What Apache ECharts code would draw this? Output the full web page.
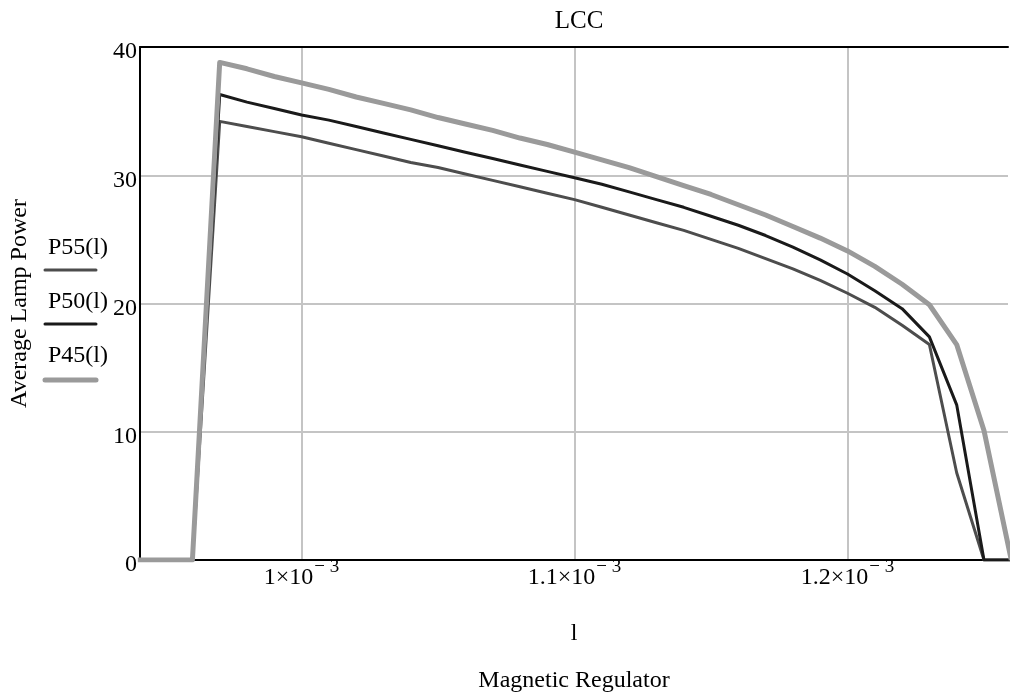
<!DOCTYPE html>
<html>
<head>
<meta charset="utf-8">
<script src="https://cdn.jsdelivr.net/npm/echarts@6/dist/echarts.min.js"></script>
<style>
  html, body { margin: 0; padding: 0; background: #fff; }
  #chart { width: 1010px; height: 695px; }
</style>
</head>
<body>
<div id="chart"></div>
<script>
// Magnetic regulator inductance l (H), sampled every 0.01e-3
const lValues = [0.94, 0.95, 0.96, 0.97, 0.98, 0.99, 1.00, 1.01, 1.02, 1.03, 1.04,
  1.05, 1.06, 1.07, 1.08, 1.09, 1.10, 1.11, 1.12, 1.13, 1.14, 1.15, 1.16, 1.17,
  1.18, 1.19, 1.20, 1.21, 1.22, 1.23, 1.24, 1.25, 1.26].map(v => v * 1e-3);

// Average lamp power for the three lamp settings
const p55 = [0, 0, 0, 34.2, 33.8, 33.4, 33.0, 32.5, 32.0, 31.5, 31.0,
  30.6, 30.1, 29.6, 29.1, 28.6, 28.1, 27.5, 26.9, 26.3, 25.7, 25.0, 24.3, 23.5,
  22.7, 21.8, 20.8, 19.7, 18.3, 16.8, 6.8, 0, 0];
const p50 = [0, 0, 0, 36.3, 35.7, 35.2, 34.7, 34.3, 33.8, 33.3, 32.8,
  32.3, 31.8, 31.3, 30.8, 30.3, 29.8, 29.3, 28.7, 28.1, 27.5, 26.8, 26.1, 25.3,
  24.4, 23.4, 22.3, 21.0, 19.6, 17.4, 12.1, 0, 0];
const p45 = [0, 0, 0, 38.8, 38.3, 37.7, 37.2, 36.7, 36.1, 35.6, 35.1,
  34.5, 34.0, 33.5, 32.9, 32.4, 31.8, 31.2, 30.6, 29.9, 29.2, 28.5, 27.7, 26.9,
  26.0, 25.1, 24.1, 22.9, 21.5, 19.9, 16.8, 10.1, 0];

const seriesNames = ['P55(l)', 'P50(l)', 'P45(l)'];
const xTicks = [1.0e-3, 1.1e-3, 1.2e-3];
const xRange = [0.9408e-3, 1.2588e-3];

const FONT = '"Liberation Serif", "DejaVu Serif", serif';
const FS = 24;

function pairs(ys) {
  return ys.map((y, i) => [lValues[i], y]);
}

// Mathcad-style scientific tick label, e.g. 1.1×10^-3
function fmtX(v) {
  const m = Math.round(v * 1e4) / 10;
  return '{a|' + String(m) + '×10}{b|− 3}';
}

const chart = echarts.init(document.getElementById('chart'), null, { renderer: 'canvas' });

const lineStyles = [
  { color: '#4d4d4d', width: 3 },
  { color: '#1a1a1a', width: 3 },
  { color: '#9a9a9a', width: 5 }
];
const dataSets = [p55, p50, p45];

chart.setOption({
  animation: false,
  backgroundColor: '#fff',
  textStyle: { fontFamily: FONT },
  title: {
    text: 'LCC',
    left: 574, top: 4,
    textAlign: 'center',
    textStyle: { fontFamily: FONT, fontSize: 25, fontWeight: 'normal', color: '#000' }
  },
  grid: { left: 140, right: 2, top: 47, bottom: 135, containLabel: false },
  xAxis: [{
    type: 'value',
    min: xRange[0], max: xRange[1],
    name: 'l',
    nameLocation: 'middle',
    nameGap: 62,
    nameTextStyle: { fontFamily: FONT, fontSize: FS, color: '#000' },
    axisLine: { show: true, onZero: false, lineStyle: { color: '#000', width: 2 } },
    axisTick: { show: false, customValues: xTicks },
    splitLine: { show: true, lineStyle: { color: '#c4c4c4', width: 2 } },
    axisLabel: {
      customValues: xTicks,
      margin: 2,
      formatter: fmtX,
      rich: {
        a: { fontFamily: FONT, fontSize: FS, lineHeight: 24, color: '#000', padding: [8, 0, 0, 0] },
        b: { fontFamily: FONT, fontSize: 19, lineHeight: 19, color: '#000', padding: [0, 0, 13, 1] }
      }
    }
  }, {
    type: 'value',
    position: 'top',
    min: xRange[0], max: xRange[1],
    axisLine: { show: true, onZero: false, lineStyle: { color: '#000', width: 2 } },
    axisTick: { show: false },
    axisLabel: { show: false },
    splitLine: { show: false }
  }],
  yAxis: {
    type: 'value',
    min: 0, max: 40, interval: 10,
    name: 'Average Lamp Power',
    nameLocation: 'middle',
    nameRotate: 90,
    nameGap: 108,
    nameTextStyle: { fontFamily: FONT, fontSize: FS, color: '#000' },
    axisLine: { show: true, lineStyle: { color: '#000', width: 2 } },
    axisTick: { show: false },
    splitLine: { show: true, lineStyle: { color: '#c4c4c4', width: 2 } },
    axisLabel: {
      margin: 3,
      formatter: '{v|{value}}',
      rich: { v: { fontFamily: FONT, fontSize: FS, lineHeight: 24, color: '#000', padding: [10, 0, 0, 0] } }
    }
  },
  series: dataSets.map((d, i) => ({
    name: seriesNames[i],
    type: 'line',
    xAxisIndex: 0,
    data: pairs(d),
    showSymbol: false,
    symbol: 'none',
    clip: true,
    lineStyle: { color: lineStyles[i].color, width: lineStyles[i].width, join: 'round' },
    z: 3 + i
  })),
  graphic: [
    { type: 'text', x: 574, y: 681, style: { text: 'Magnetic Regulator', font: FS + 'px ' + FONT, fill: '#000', align: 'center', verticalAlign: 'middle' } }
  ].concat(seriesNames.flatMap((n, i) => [
    { type: 'text', x: 48, y: 248 + i * 54, style: { text: n, font: FS + 'px ' + FONT, fill: '#000', verticalAlign: 'middle' } },
    { type: 'line', shape: { x1: 45, y1: 270 + i * 54 + (i === 2 ? 2 : 0), x2: 96, y2: 270 + i * 54 + (i === 2 ? 2 : 0) },
      style: { stroke: lineStyles[i].color, lineWidth: lineStyles[i].width, lineCap: 'round' } }
  ]))
});
</script>
</body>
</html>
